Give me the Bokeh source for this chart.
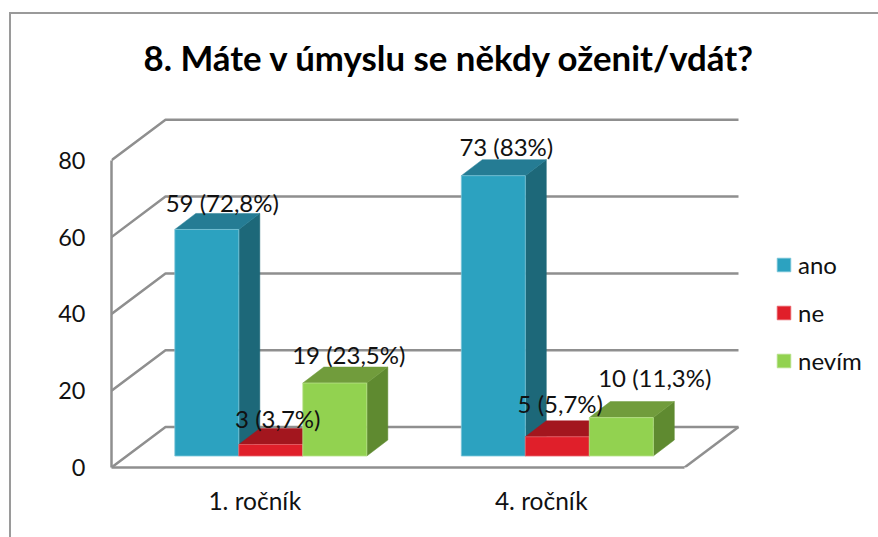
from bokeh.plotting import figure
from bokeh.models import Range1d, FixedTicker, Title, Legend, LegendItem, ColumnDataSource
from bokeh.core.properties import value
from bokeh.embed import file_html
from bokeh.resources import INLINE

# ---- data ----
TITLE = "8. Máte v úmyslu se někdy oženit/vdát?"
categories = ["1. ročník", "4. ročník"]
series_names = ["ano", "ne", "nevím"]
ano = [59, 73]
ne = [3, 5]
nevim = [19, 10]
ano_labels = ["59 (72,8%)", "73 (83%)"]
ne_labels = ["3 (3,7%)", "5 (5,7%)"]
nevim_labels = ["19 (23,5%)", "10 (11,3%)"]
y_ticks = [0, 20, 40, 60, 80]

# ---- styles / layout ----
FONT = "Lato"
PX_X = 286.5   # px per category
PX_Y = 3.84    # px per value unit
GRID = "#8f8f8f"
BORDER = "#9a9a9a"
styles = [
    dict(front="#2CA2C0", side="#1D6879", top="#257C94", edge="#7CC6D9"),
    dict(front="#E01F2A", side="#8E141B", top="#A3161E", edge="#E9636A"),
    dict(front="#92D250", side="#5F8A30", top="#719C3C", edge="#B7E18A"),
]
# label nudges in px (dx, up) from the centre of each bar's top front edge
nudges = [[(15.5, 27), (13, 29)], [(7, 26), (3, 33)], [(14, 29), (33.5, 40)]]

depth_x = 54 / PX_X
depth_y = 40.5 / PX_Y
bar_w = 64 / PX_X
bar_base = 11.5 / PX_Y
bar_dx = 21 / PX_X
bar_dy = 16 / PX_Y
first_bar = -0.279
x_start, x_floor_end = 0.5, 2.5

W, H = 878, 537
p = figure(width=W, height=H, output_backend="svg", toolbar_location=None,
           x_range=Range1d(x_start, x_start + (878 - 111) / PX_X),
           y_range=Range1d(0, 367 / PX_Y),
           min_border_left=111, min_border_right=0, min_border_top=100, min_border_bottom=70,
           x_axis_location="below", background_fill_color=None, border_fill_color=None)
p.outline_line_color = None
p.grid.visible = False

# chart-area border: only its top and left edges fall inside the picture
p.styles = {"background": (f"linear-gradient({BORDER},{BORDER}) 9px 12px / 100% 2px no-repeat, "
                           f"linear-gradient({BORDER},{BORDER}) 9px 12px / 2px 100% no-repeat, white")}

t = Title(text=TITLE, align="left", offset=32, text_font=FONT, text_font_size="34.8px",
          text_font_style="bold", text_color="#000000", standoff=46)
p.add_layout(t, "above")

# axes
ax = p.xaxis[0]
ax.ticker = FixedTicker(ticks=[1, 2])
ax.major_label_overrides = {1: categories[0], 2: categories[1]}
ax.bounds = (x_start, x_floor_end)
ax.axis_line_color = GRID; ax.axis_line_width = 2.5
ax.major_tick_line_color = None; ax.minor_tick_line_color = None
ax.major_label_text_font = FONT; ax.major_label_text_font_size = "24.5px"
ax.major_label_text_color = "#111111"; ax.major_label_standoff = 12
ay = p.yaxis[0]
ay.ticker = FixedTicker(ticks=y_ticks)
ay.bounds = (0, 80)
ay.axis_line_color = GRID; ay.axis_line_width = 2.5
ay.major_tick_line_color = None; ay.minor_tick_line_color = None
ay.major_label_text_font = FONT; ay.major_label_text_font_size = "23.5px"
ay.major_label_text_color = "#111111"; ay.major_label_standoff = 20

# walls: back gridlines, side-wall diagonals, floor edge
for v in y_ticks:
    p.line([x_start, x_start + depth_x, x_floor_end + depth_x],
           [v, v + depth_y, v + depth_y], line_color=GRID, line_width=2.5)
p.line([x_floor_end, x_floor_end + depth_x], [0, depth_y], line_color=GRID, line_width=2.5)

# bars
items = []
labx, laby, labt, labxo, labyo = [], [], [], [], []
for si, (vals, labs, st) in enumerate(zip([ano, ne, nevim], [ano_labels, ne_labels, nevim_labels], styles)):
    side_x, side_y, top_x, top_y, l, r, tp = [], [], [], [], [], [], []
    for ci, v in enumerate(vals):
        x0 = ci + 1 + first_bar + si * bar_w
        x1 = x0 + bar_w
        y0 = bar_base
        y1 = bar_base + v
        side_x.append([x1, x1 + bar_dx, x1 + bar_dx, x1])
        side_y.append([y0, y0 + bar_dy, y1 + bar_dy, y1])
        top_x.append([x0, x0 + bar_dx, x1 + bar_dx, x1])
        top_y.append([y1, y1 + bar_dy, y1 + bar_dy, y1])
        l.append(x0); r.append(x1); tp.append(y1)
        labx.append((x0 + x1) / 2); laby.append(y1); labt.append(labs[ci])
        labxo.append(nudges[si][ci][0]); labyo.append(-nudges[si][ci][1])
    p.patches(side_x, side_y, fill_color=st["side"], line_color=st["side"], line_width=0.5)
    p.patches(top_x, top_y, fill_color=st["top"], line_color=st["top"], line_width=0.5)
    front = p.quad(left=l, right=r, bottom=[bar_base] * len(l), top=tp,
                   fill_color=st["front"], line_color=st["edge"], line_width=0.8)
    items.append(LegendItem(label=series_names[si], renderers=[front]))

src = ColumnDataSource(dict(x=labx, y=laby, t=labt, xo=labxo, yo=labyo))
p.text("x", "y", text="t", source=src, x_offset="xo", y_offset="yo",
       text_align="center", text_baseline="middle", text_font=value(FONT),
       text_font_size="24px", text_color="#111111")

leg = Legend(items=items, location=(775 - 111, 92), orientation="vertical",
             border_line_color=None, background_fill_alpha=0, padding=0, margin=0,
             glyph_width=17, glyph_height=17, label_height=17, spacing=19, label_standoff=6,
             label_text_font=FONT, label_text_font_size="24px", label_text_color="#111111",
             label_text_baseline="middle")
p.add_layout(leg, "center")

open("out.html", "w").write(file_html(p, INLINE))
